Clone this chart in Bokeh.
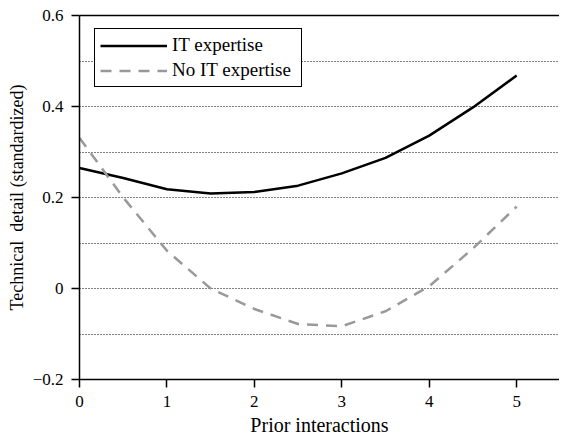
from bokeh.plotting import figure
from bokeh.models import (Range1d, FixedTicker, LinearAxis, Legend, LegendItem)
from bokeh.embed import file_html
from bokeh.resources import INLINE

x_vals = [0, 0.5, 1, 1.5, 2, 2.5, 3, 3.5, 4, 4.5, 5]
it_expertise = [0.265, 0.243, 0.218, 0.209, 0.212, 0.226, 0.253, 0.287, 0.336, 0.398, 0.468]
no_it_expertise = [0.331, 0.200, 0.083, 0.000, -0.045, -0.078, -0.083, -0.050, 0.005, 0.088, 0.180]

x_ticks = [0, 1, 2, 3, 4, 5]
y_ticks = [-0.2, 0, 0.2, 0.4, 0.6]
y_tick_labels = {-0.2: "\u22120.2", 0: "0", 0.2: "0.2", 0.4: "0.4", 0.6: "0.6"}
grid_levels = [-0.1, 0, 0.1, 0.2, 0.3, 0.4, 0.5]

FONT = "Liberation Serif"

p = figure(width=559, height=440, output_backend="svg", toolbar_location=None,
           x_range=Range1d(0, 5.49), y_range=Range1d(-0.2, 0.6),
           min_border_left=79, min_border_right=0, min_border_top=15, min_border_bottom=61)
p.outline_line_color = None
p.background_fill_color = "white"
p.border_fill_color = "white"

p.xgrid.grid_line_color = None
p.ygrid.ticker = FixedTicker(ticks=grid_levels)
p.ygrid.grid_line_color = "black"
p.ygrid.grid_line_dash = "1 2"
p.ygrid.grid_line_width = 1

for ax in (p.xaxis[0], p.yaxis[0]):
    ax.axis_line_color = "black"
    ax.axis_line_width = 1.5
    ax.major_tick_line_color = "black"
    ax.major_tick_line_width = 1.5
    ax.major_tick_in = 0
    ax.major_tick_out = 8
    ax.minor_tick_line_color = None
    ax.major_label_text_font = FONT
    ax.major_label_text_font_size = "17px"
    ax.major_label_text_color = "black"
    ax.axis_label_text_font = FONT
    ax.axis_label_text_font_style = "normal"
    ax.axis_label_text_color = "black"

p.xaxis.ticker = FixedTicker(ticks=x_ticks)
p.yaxis.ticker = FixedTicker(ticks=y_ticks)
p.yaxis.major_label_overrides = y_tick_labels
p.xaxis.axis_label = "Prior interactions"
p.yaxis.axis_label = "Technical\u00a0 detail (standardized)"
p.xaxis.axis_label_text_font_size = "20px"
p.yaxis.axis_label_text_font_size = "18px"
p.xaxis.major_label_standoff = 8
p.xaxis.axis_label_standoff = 4
p.yaxis.major_label_standoff = 8
p.yaxis.axis_label_standoff = 3

top = LinearAxis(ticker=FixedTicker(ticks=[]), major_tick_line_color=None,
                 minor_tick_line_color=None, major_label_text_font_size="0px",
                 axis_line_color="black", axis_line_width=1.5)
p.add_layout(top, "above")

r1 = p.line(x_vals, it_expertise, line_color="black", line_width=2.5)
r2 = p.line(x_vals, no_it_expertise, line_color="#999999", line_width=2.5, line_dash="11 8")

legend = Legend(items=[LegendItem(label="IT expertise", renderers=[r1]),
                       LegendItem(label="No IT expertise", renderers=[r2])],
                location=(15, 292), orientation="vertical",
                label_text_font=FONT, label_text_font_size="19px", label_text_color="black",
                glyph_width=67, glyph_height=21, label_height=21, label_width=124,
                label_standoff=5, spacing=3, padding=5, margin=0,
                border_line_color="black", border_line_width=1.2, border_line_alpha=1,
                background_fill_alpha=1)
p.add_layout(legend, "center")

open("out.html", "w").write(file_html(p, INLINE))
